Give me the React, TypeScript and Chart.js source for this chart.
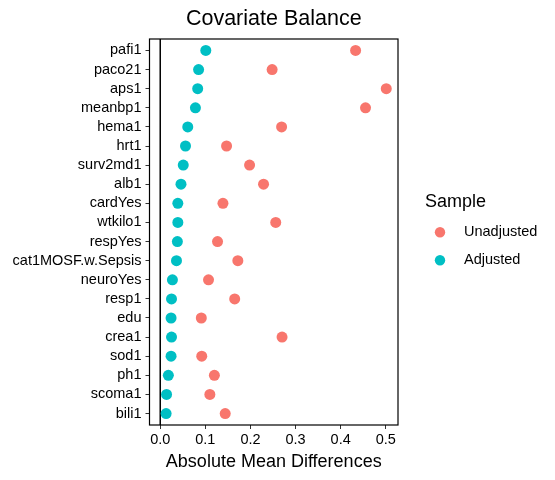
import React, { useEffect, useRef } from "react";
import { Chart, registerables } from "chart.js";

Chart.register(...registerables);

const covariates = [
  "pafi1", "paco21", "aps1", "meanbp1", "hema1", "hrt1", "surv2md1", "alb1",
  "cardYes", "wtkilo1", "respYes", "cat1MOSF.w.Sepsis", "neuroYes", "resp1",
  "edu", "crea1", "sod1", "ph1", "scoma1", "bili1",
];
const unadjusted = [
  0.433, 0.248, 0.501, 0.455, 0.269, 0.147, 0.198, 0.229,
  0.139, 0.256, 0.127, 0.172, 0.107, 0.165,
  0.091, 0.270, 0.092, 0.120, 0.110, 0.144,
];
const adjusted = [
  0.101, 0.085, 0.083, 0.078, 0.061, 0.056, 0.051, 0.046,
  0.039, 0.039, 0.038, 0.036, 0.027, 0.025,
  0.024, 0.025, 0.024, 0.018, 0.014, 0.013,
];
const xTicks = [0, 0.1, 0.2, 0.3, 0.4, 0.5];
const seriesNames = ["Unadjusted", "Adjusted"];
const seriesColors = ["#F8766D", "#00BFC4"];
const titleText = "Covariate Balance";
const xTitle = "Absolute Mean Differences";
const legendTitle = "Sample";

const FONT = "'Liberation Sans', Arial, sans-serif";

export default function App() {
  const ref = useRef<HTMLCanvasElement | null>(null);

  useEffect(() => {
    document.body.style.margin = "0";
    const canvas = ref.current;
    if (!canvas) return;

    const toPoints = (vals: number[]) => vals.map((v, i) => ({ x: v, y: i }));

    const framePlugin = {
      id: "frame",
      beforeDatasetsDraw(chart: any) {
        const { ctx, chartArea, scales } = chart;
        const x0 = scales.x.getPixelForValue(0);
        ctx.save();
        ctx.strokeStyle = "#000";
        ctx.lineWidth = 1.5;
        ctx.beginPath();
        ctx.moveTo(x0, chartArea.top);
        ctx.lineTo(x0, chartArea.bottom);
        ctx.stroke();
        ctx.restore();
      },
      afterDraw(chart: any) {
        const { ctx, chartArea } = chart;
        ctx.save();
        ctx.strokeStyle = "#000";
        ctx.lineWidth = 1.2;
        ctx.strokeRect(
          chartArea.left,
          chartArea.top,
          chartArea.right - chartArea.left,
          chartArea.bottom - chartArea.top
        );
        // title
        ctx.fillStyle = "#000";
        ctx.font = `21.5px ${FONT}`;
        ctx.textAlign = "center";
        ctx.textBaseline = "alphabetic";
        ctx.fillText(titleText, (chartArea.left + chartArea.right) / 2, 25);
        // legend
        const lx = 425;
        ctx.textAlign = "left";
        ctx.textBaseline = "alphabetic";
        ctx.font = `18px ${FONT}`;
        ctx.fillText(legendTitle, lx, 206.5);
        ctx.font = `14.5px ${FONT}`;
        ctx.textBaseline = "middle";
        chart.data.datasets.forEach((ds: any, i: number) => {
          const cy = 232.3 + i * 28;
          ctx.beginPath();
          ctx.fillStyle = ds.backgroundColor;
          ctx.arc(lx + 15, cy, 5.2, 0, Math.PI * 2);
          ctx.fill();
          ctx.fillStyle = "#000";
          ctx.fillText(ds.label, lx + 39, cy);
        });
        ctx.restore();
      },
    };

    const chart = new Chart(canvas, {
      type: "scatter",
      data: {
        datasets: [
          {
            label: seriesNames[0],
            data: toPoints(unadjusted),
            backgroundColor: seriesColors[0],
            borderColor: seriesColors[0],
            pointRadius: 5.5,
            borderWidth: 0,
          },
          {
            label: seriesNames[1],
            data: toPoints(adjusted),
            backgroundColor: seriesColors[1],
            borderColor: seriesColors[1],
            pointRadius: 5.5,
            borderWidth: 0,
          },
        ],
      },
      options: {
        animation: false,
        responsive: false,
        maintainAspectRatio: false,
        layout: { padding: { top: 39, right: 157, left: 0, bottom: 0 } },
        plugins: {
          legend: { display: false },
          title: { display: false },
          tooltip: { enabled: false },
        },
        scales: {
          x: {
            type: "linear",
            min: -0.0238,
            max: 0.527,
            afterBuildTicks: (scale: any) => {
              scale.ticks = xTicks.map((v) => ({ value: v }));
            },
            afterFit: (scale: any) => {
              scale.height = 55;
            },
            ticks: {
              color: "#000",
              font: { family: FONT, size: 14.5 },
              padding: 2,
              callback: (v: any) => Number(v).toFixed(1),
              maxRotation: 0,
            },
            grid: {
              drawOnChartArea: false,
              drawTicks: true,
              tickLength: 4,
              color: "#333333",
            },
            border: { display: false },
            title: {
              display: true,
              text: xTitle,
              color: "#000",
              font: { family: FONT, size: 18 },
              padding: { top: 0, bottom: 7 },
            },
          },
          y: {
            type: "linear",
            reverse: true,
            min: -0.6,
            max: covariates.length - 1 + 0.6,
            afterBuildTicks: (scale: any) => {
              scale.ticks = covariates.map((_, i) => ({ value: i }));
            },
            afterFit: (scale: any) => {
              scale.width = 149.5;
            },
            ticks: {
              color: "#000",
              font: { family: FONT, size: 14.5 },
              padding: 4,
              autoSkip: false,
              callback: (v: any) => covariates[Number(v)],
            },
            grid: {
              drawOnChartArea: false,
              drawTicks: true,
              tickLength: 4,
              color: "#333333",
            },
            border: { display: false },
          },
        },
      },
      plugins: [framePlugin],
    });

    return () => chart.destroy();
  }, []);

  return (
    <div style={{ width: 555, height: 480 }}>
      <canvas ref={ref} width={555} height={480} style={{ display: "block" }} />
    </div>
  );
}
